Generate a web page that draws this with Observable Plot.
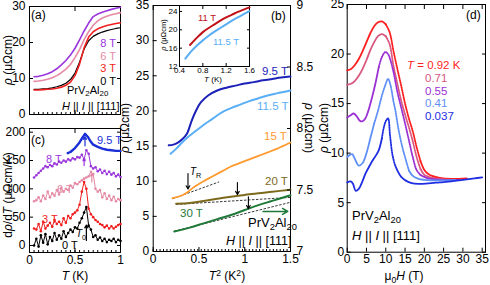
<!DOCTYPE html>
<html><head><meta charset="utf-8">
<script src="https://cdn.jsdelivr.net/npm/d3@7"></script>
<script src="https://cdn.jsdelivr.net/npm/@observablehq/plot@0.6"></script>
<style>
html,body{margin:0;padding:0;background:#fff;}
#root{position:relative;width:490px;height:285px;overflow:hidden;font-family:"Liberation Sans",Arial,Helvetica,sans-serif;}
.t{position:absolute;white-space:nowrap;line-height:1;}
.t sub{font-size:0.72em;vertical-align:-0.35em;line-height:0;}
.t sup{font-size:0.72em;vertical-align:0.5em;line-height:0;}
</style></head><body><div id="root"></div>
<script>
// ================= DATA =================
// (a) rho (μΩcm) vs T (K)
const aT  = [0.05,0.1,0.15,0.2,0.25,0.3,0.35,0.4,0.45,0.5,0.55,0.6,0.65,0.7,0.75,0.8,0.85,0.9,0.95,1.0];
const a0T = [7.0,7.0,7.1,7.2,7.4,7.7,8.1,8.7,9.7,11.5,14.5,18.2,20.5,21.7,22.4,22.9,23.3,23.6,23.9,24.1];
const a3T = [6.8,6.8,6.9,7.0,7.1,7.3,7.6,8.1,9.0,10.8,14.0,18.5,21.5,23.0,23.8,24.3,24.7,25.0,25.3,25.5];
const a6T = [9.2,9.3,9.5,9.8,10.2,10.8,11.6,12.6,13.9,15.8,18.0,20.8,23.0,24.8,26.0,26.8,27.3,27.7,28.0,28.3];
const a8T = [10.5,10.6,10.9,11.3,11.9,12.7,13.8,15.0,16.5,18.4,20.7,23.2,25.4,27.2,27.9,28.4,28.8,29.2,29.5,29.8];

// (c) dρ/dT (μΩcm/K) vs T (K)
const cT  = [0.05,0.075,0.1,0.125,0.15,0.175,0.2,0.225,0.25,0.275,0.3,0.325,0.35,0.375,0.4,0.425,0.45,0.475,0.5,0.525,0.55,0.575,0.6,0.625,0.65,0.675,0.7,0.725,0.75,0.775,0.8,0.825,0.85,0.875,0.9,0.925,0.95,0.975,1.0];
const c0T = [0,12,-2,18,5,20,2,15,8,22,10,18,12,25,15,22,28,24,32,30,40,48,58,68,35,28,15,18,10,14,8,12,6,10,8,12,6,10,8];
const c3T = [30,28,38,25,42,30,35,40,33,45,38,42,36,48,40,52,48,55,58,62,72,95,112,100,65,55,50,45,42,38,36,32,35,30,34,30,33,36,38];
const c6T = [78,80,85,78,88,82,95,85,92,88,98,90,102,95,100,98,106,102,110,108,112,115,118,120,122,130,126,100,95,98,85,92,82,88,80,86,78,82,80];
const c8T = [120,124,128,132,136,140,138,142,140,145,143,148,146,150,148,152,150,154,152,156,155,160,152,168,162,140,136,138,131,134,128,132,126,130,125,128,122,125,121];
const c95x = [0.42,0.45,0.5,0.55,0.58,0.61,0.64,0.67,0.7,0.75,0.8,0.85,0.9,0.95,1.0];
const c95T = [163,165,172,182,190,197,192,184,178,174,171,169,168,167,167];
const cArrowT    = [0.61,0.6,0.685,0.625];
const cArrowFrom = [176,141,112,9];
const cArrowTo   = [192,153,127,36];

// (b) rho vs T^2 (K^2)
const b95x = [0.17,0.22,0.27,0.32,0.37,0.42,0.47,0.52,0.6,0.7,0.8,0.9,1.0,1.1,1.2,1.3,1.4,1.5];
const b95  = [15.1,15.2,15.5,16.0,16.8,18.6,20.1,21.2,22.2,22.9,23.3,23.6,23.9,24.1,24.35,24.55,24.75,24.9];
const b115x = [0.19,0.25,0.3,0.37,0.45,0.55,0.65,0.75,0.85,0.95,1.05,1.15,1.25,1.35,1.5];
const b115  = [13.9,14.6,15.3,16.2,17.0,18.0,18.9,19.8,20.4,20.9,21.4,21.8,22.2,22.5,22.9];
const b15x = [0.21,0.3,0.37,0.45,0.55,0.65,0.75,0.85,0.95,1.05,1.15,1.25,1.35,1.5];
const b15  = [7.6,7.9,8.4,9.2,10.0,10.7,11.4,12.1,12.6,13.1,13.6,14.1,14.6,15.5];
const b20x = [0.25,0.4,0.55,0.7,0.85,1.0,1.15,1.3,1.5];
const b20  = [6.8,6.9,7.2,7.5,7.8,8.05,8.3,8.5,8.8];
const b30x = [0.23,0.4,0.55,0.7,0.85,1.0,1.15,1.3,1.5];
const b30  = [2.85,3.4,4.0,4.6,5.2,5.9,6.6,7.2,8.0];
const bFitX1 = [0.21,0.25,0.23], bFitX2 = [0.72,1.5,1.5];
const bFitY1 = [7.5,6.7,2.9],    bFitY2 = [9.9,7.7,7.0];
const bArrowX = [0.38,0.92,1.04];
const bArrowFrom = [11.1,9.8,7.8];
const bArrowTo   = [8.9,8.1,6.1];
const bGreenArrow = {x1:1.2, x2:1.47, y:5.7};
const bRightTicks = [7,7.5,8,8.5,9];

// (b) inset: rho vs T
const i11x = [0.58,0.7,0.8,0.9,1.0,1.1,1.2,1.3,1.4,1.5,1.6];
const i11  = [16.7,18.3,19.5,20.4,21.2,22.0,22.7,23.3,23.9,24.4,24.9];
const i115x = [0.5,0.6,0.7,0.8,0.9,1.0,1.1,1.2,1.3,1.4,1.5,1.6];
const i115  = [13.7,15.3,16.6,17.7,18.7,19.6,20.4,21.2,22.0,22.7,23.4,24.1];

// (d) rho vs mu0 H (T) at fixed temperatures
const dTemps = ["0.92","0.71","0.55","0.41","0.037"];
const dH092 = [0,1,2,3,4,5,6,7,8,9,10,11,12,13,14,15,16,17,18,19,20,21,22,24,27,31];
const dR092 = [18.35,18.5,18.9,19.5,20.3,21.2,22.1,22.8,23.2,23.3,23.0,22.2,20.3,18.5,16.8,15.0,13.5,12.2,10.6,9.2,8.3,7.9,7.7,7.5,7.4,7.45];
const dH071 = [0,1,2,3,4,5,6,7,8,9,10,11,12,13,14,15,16,17,18,19,20,22,25,28];
const dR071 = [16.9,17.0,17.3,17.8,18.5,19.4,20.4,21.2,21.8,22.0,21.8,21.0,18.8,17.0,15.3,13.9,12.6,11.2,9.6,8.4,7.8,7.5,7.35,7.3];
const dH055 = [0,0.8,1.7,2.5,3.2,3.9,4.7,5.5,6.5,7.3,8.2,9.0,9.9,10.6,11.2,12,13,14,15,16,17,18,19,20,21,23,26,29];
const dR055 = [13.6,13.8,14.0,13.7,13.3,13.2,13.5,14.3,15.7,17.0,18.7,19.7,20.2,20.0,19.4,18.2,16.2,14.6,13.0,11.3,9.6,8.3,7.8,7.6,7.45,7.35,7.3,7.3];
const dH041 = [0,0.6,1.3,2.0,3.0,4.0,5.0,6.0,7.0,8.0,9.0,10.0,10.6,11.2,12.0,12.5,13.3,14.3,15.0,16.0,17.0,18.5,20,22,25,28];
const dR041 = [9.6,9.8,9.9,9.4,8.75,9.0,10.0,11.5,13.0,14.3,15.8,17.0,17.5,16.9,15.2,14.3,12.4,10.6,9.6,8.25,7.7,7.4,7.3,7.25,7.25,7.3];
const dH0037 = [0,0.9,1.5,2.2,3,4,4.7,5.5,6.5,7.5,8.2,9.0,9.5,10.1,10.6,11.1,11.7,12.3,13,14,15.1,16.5,18.6,21,24,27,30,33,35];
const dR0037 = [7.05,7.15,6.9,6.2,6.4,7.2,7.9,8.5,9.2,9.8,10.3,11.5,12.6,13.3,13.5,11.8,9.9,8.9,8.25,7.6,7.25,7.0,6.9,6.95,7.05,7.15,7.3,7.45,7.55];
// field range plotted as dotted trace for each temperature
const dDotFrom = [10,10,8.2,7.0,9.0];
const dDotTo   = [19,19,19,16.0,12.3];

// ================= RENDER =================
const root = document.getElementById("root");
const FONT = '"Liberation Sans", Arial, Helvetica, sans-serif';
const sty = fs => ({fontFamily:FONT,fontSize:fs+"px",background:"transparent",overflow:"visible",color:"black"});
function put(svg,l,t){svg.style.position="absolute";svg.style.left=l+"px";svg.style.top=t+"px";root.appendChild(svg);}
const zip = (xs,ys) => xs.map((x,i)=>({x,y:ys[i]}));
const blank = () => "";
const str = d => String(d);

function axes({xT,yT,xMinor,ts=4,pad=4,xLab=true,yLab=true,right=true,top=true}){
  const m=[Plot.frame({strokeWidth:1})];
  m.push(Plot.axisX(xT,{anchor:"bottom",tickSize:-ts,tickFormat:blank,label:null}));
  if(top) m.push(Plot.axisX(xT,{anchor:"top",tickSize:-ts,tickFormat:blank,label:null}));
  if(xMinor) m.push(Plot.axisX(xMinor,{anchor:"bottom",tickSize:-ts/2,tickFormat:blank,label:null}));
  if(xLab) m.push(Plot.axisX(xT,{anchor:"bottom",tickSize:0,tickPadding:pad-1,tickFormat:str,label:null}));
  m.push(Plot.axisY(yT,{anchor:"left",tickSize:-ts,tickFormat:blank,label:null}));
  if(right) m.push(Plot.axisY(yT,{anchor:"right",tickSize:-ts,tickFormat:blank,label:null}));
  if(yLab) m.push(Plot.axisY(yT,{anchor:"left",tickSize:0,tickPadding:pad,tickFormat:str,label:null}));
  return m;
}
function label(html,x,y,{size=12,color="#000",anchor="start",rot=0}={}){
  const d=document.createElement("div");
  d.className="t"; d.innerHTML=html;
  d.style.left=x+"px"; d.style.top=y+"px"; d.style.fontSize=size+"px"; d.style.color=color;
  const tx = anchor==="start"?"0":anchor==="middle"?"-50%":"-100%";
  d.style.transform = rot ? `translate(-50%,-50%) rotate(${rot}deg)` : `translate(${tx},-50%)`;
  root.appendChild(d);
}

const C = {k:"#000000", red:"#f01e1e", pink:"#e48aa4", purple:"#9a35dc", blue:"#1a2fd6"};
const minorTC = d3.range(0,1.0001,0.05);

// ---- (a)
put(Plot.plot({width:125,height:120,marginLeft:29,marginRight:5,marginTop:6,marginBottom:6,
  x:{domain:[0,1]}, y:{domain:[0,30]}, style:sty(12),
  marks:[
    ...axes({xT:[0,0.5,1],yT:[0,10,20,30],xMinor:minorTC,xLab:false}),
    Plot.line(zip(aT,a0T),{x:"x",y:"y",stroke:C.k,strokeWidth:1.2}),
    Plot.line(zip(aT,a3T),{x:"x",y:"y",stroke:C.red,strokeWidth:1.6}),
    Plot.line(zip(aT,a6T),{x:"x",y:"y",stroke:C.pink,strokeWidth:1.6}),
    Plot.line(zip(aT,a8T),{x:"x",y:"y",stroke:C.purple,strokeWidth:1.6})
  ]}),0,0);

// ---- (c)
const cSeries = [[c0T,C.k],[c3T,C.red],[c6T,C.pink],[c8T,C.purple]];
const cArrowColors = [C.blue,C.purple,C.pink,C.k];
put(Plot.plot({width:125,height:165,marginLeft:29,marginRight:5,marginTop:8,marginBottom:33,
  x:{domain:[0,1]}, y:{domain:[-12.4,206.5]}, style:sty(12),
  marks:[
    ...axes({xT:[0,0.5,1],yT:[0,50,100,150,200],xMinor:minorTC}),
    ...cSeries.flatMap(([v,col])=>[
      Plot.line(zip(cT,v),{x:"x",y:"y",stroke:col,strokeWidth:1}),
      Plot.dot(zip(cT,v),{x:"x",y:"y",r:1.3,fill:col,stroke:null})
    ]),
    Plot.line(zip(c95x,c95T),{x:"x",y:"y",stroke:C.blue,strokeWidth:2.4}),
    ...cArrowT.map((t,i)=>Plot.arrow([{x:t,y1:cArrowFrom[i],y2:cArrowTo[i]}],
      {x1:"x",x2:"x",y1:"y1",y2:"y2",stroke:cArrowColors[i],strokeWidth:1.2,headLength:4}))
  ]}),0,120);

// ---- (b)
const B = {b95:"#1c22b8", b115:"#5aaef5", b15:"#ff9a2e", b20:"#7c6a1c", b30:"#1f7a38", i11:"#c01218"};
const bFits = bFitX1.map((x,i)=>({x1:x,x2:bFitX2[i],y1:bFitY1[i],y2:bFitY2[i]}));
put(Plot.plot({width:200,height:285,marginLeft:27.7,marginRight:35,marginTop:5,marginBottom:34,
  x:{domain:[0,1.5]}, y:{domain:[0,35]}, style:sty(12),
  marks:[
    ...axes({xT:[0,0.5,1,1.5],yT:[0,5,10,15,20,25,30,35],xMinor:d3.range(0,1.5001,0.0375),right:false}),
    Plot.link(bFits,{x1:"x1",x2:"x2",y1:"y1",y2:"y2",stroke:"#222",strokeWidth:0.9,strokeDasharray:"2.5,1.5"}),
    Plot.line(zip(b95x,b95),{x:"x",y:"y",stroke:B.b95,strokeWidth:2,curve:"catmull-rom"}),
    Plot.line(zip(b115x,b115),{x:"x",y:"y",stroke:B.b115,strokeWidth:2,curve:"catmull-rom"}),
    Plot.line(zip(b15x,b15),{x:"x",y:"y",stroke:B.b15,strokeWidth:1.8,curve:"catmull-rom"}),
    Plot.line(zip(b20x,b20),{x:"x",y:"y",stroke:B.b20,strokeWidth:2,curve:"catmull-rom"}),
    Plot.line(zip(b30x,b30),{x:"x",y:"y",stroke:B.b30,strokeWidth:2,curve:"catmull-rom"}),
    Plot.arrow(bArrowX.map((x,i)=>({x,y1:bArrowFrom[i],y2:bArrowTo[i]})),
      {x1:"x",x2:"x",y1:"y1",y2:"y2",stroke:"#000",strokeWidth:1.1,headLength:5}),
    Plot.arrow([bGreenArrow],{x1:"x1",x2:"x2",y1:"y",y2:"y",stroke:B.b30,strokeWidth:1.5,headLength:6})
  ]}),125,0);
// (b) right axis
put(Plot.plot({width:200,height:285,marginLeft:27.7,marginRight:35,marginTop:5,marginBottom:34,
  y:{domain:[7,9]}, style:sty(12),
  marks:[
    Plot.axisY(bRightTicks,{anchor:"right",tickSize:-4,tickFormat:blank,label:null}),
    Plot.axisY(bRightTicks,{anchor:"right",tickSize:0,tickPadding:6,tickFormat:str,label:null})
  ]}),125,0);
// (b) inset
put(Plot.plot({width:99,height:85,marginLeft:24,marginRight:5,marginTop:5,marginBottom:19,
  x:{domain:[0.4,1.6]}, y:{domain:[12,25.3]}, style:sty(8),
  marks:[
    Plot.frame({fill:"white",stroke:"none"}),
    ...axes({xT:[0.4,0.8,1.2,1.6],yT:[12,16,20,24],ts:3,pad:2}),
    Plot.line(zip(i11x,i11),{x:"x",y:"y",stroke:B.i11,strokeWidth:2,curve:"catmull-rom"}),
    Plot.line(zip(i115x,i115),{x:"x",y:"y",stroke:B.b115,strokeWidth:2,curve:"catmull-rom"})
  ]}),155,0);

// ---- (d)
const D = ["#ff1f1f","#d9577f","#9b30d3","#5f90f5","#1f2ee0"];
const dH = [dH092,dH071,dH055,dH041,dH0037];
const dR = [dR092,dR071,dR055,dR041,dR0037];
const dMarks = [];
dH.forEach((H,k)=>{
  const pts = zip(H,dR[k]);
  const a = pts.filter(p=>p.x<=dDotFrom[k]);
  const b = pts.filter(p=>p.x>=dDotFrom[k] && p.x<=dDotTo[k]);
  const c = pts.filter(p=>p.x>=dDotTo[k]);
  dMarks.push(Plot.line(a,{x:"x",y:"y",stroke:D[k],strokeWidth:1.8,curve:"catmull-rom"}));
  dMarks.push(Plot.line(b,{x:"x",y:"y",stroke:D[k],strokeWidth:1.8,strokeDasharray:"1.2,1.3",curve:"catmull-rom"}));
  dMarks.push(Plot.line(c,{x:"x",y:"y",stroke:D[k],strokeWidth:1.8,curve:"catmull-rom"}));
});
put(Plot.plot({width:165,height:285,marginLeft:21.7,marginRight:5,marginTop:4,marginBottom:33.3,
  x:{domain:[0,35.86]}, y:{domain:[0,25]}, style:sty(12),
  marks:[
    ...axes({xT:[0,5,10,15,20,25,30,35],yT:[0,5,10,15,20,25],pad:3}),
    ...dMarks
  ]}),325,0);

// ================= TEXT =================
const RHO = "<i>ρ</i> (μΩcm)";
const HI = "<i>H</i> || <i>I</i> || [111]";
const PRV = "PrV<sub>2</sub>Al<sub>20</sub>";
// (a)
label("(a)",31,15,{size:12});
label(RHO,8,60,{size:12,rot:-90});
label("8 T",116,43,{size:11,color:C.purple,anchor:"end"});
label("6 T",116,56,{size:11,color:C.pink,anchor:"end"});
label("3 T",116,68,{size:11,color:C.red,anchor:"end"});
label("0 T",116,81,{size:11,color:C.k,anchor:"end"});
label(PRV,67,90,{size:11});
label(HI,62,106,{size:11});
// (c)
label("(c)",31,140,{size:12});
label("d<i>ρ</i>/d<i>T</i> (μΩcm/K)",8,195,{size:12,rot:-90});
label("9.5 T",97,140,{size:11,color:C.blue});
label("8 T",46,159,{size:11,color:C.purple});
label("6 T",57,189,{size:11,color:C.pink});
label("3 T",42,219,{size:11,color:C.red});
label("0 T",62,245,{size:11,color:C.k});
label("<i>T</i><sub>0</sub>",76,234,{size:10});
label("<i>T</i> (K)",75,276,{size:12,anchor:"middle"});
// (b)
label("(b)",271,16,{size:12});
label(RHO,125,128,{size:12,rot:-90});
label(RHO,309,128,{size:12,rot:90});
label("<i>T</i><sup>2</sup> (K<sup>2</sup>)",227,276,{size:12,anchor:"middle"});
label("9.5 T",262,72,{size:11.5,color:B.b95});
label("11.5 T",257,107,{size:11.5,color:B.b115});
label("15 T",264,137,{size:11.5,color:B.b15});
label("20 T",265,182,{size:11.5,color:B.b20});
label("30 T",180,214,{size:11.5,color:B.b30});
label("<i>T</i><sub>R</sub>",190,172,{size:10});
label(PRV,248,222,{size:13});
label(HI,226,241,{size:12.5});
label("11 T",198,18,{size:9.5,color:B.i11});
label("11.5 T",213,42,{size:9.5,color:B.b115});
label(RHO,164,35,{size:7.5,rot:-90});
label("<i>T</i> (K)",213,80,{size:8,anchor:"middle"});
// (d)
label("(d)",466,15,{size:12});
label(RHO,324,128,{size:12,rot:-90});
label("μ<sub>0</sub><i>H</i> (T)",404,276,{size:12,anchor:"middle"});
label("<i>T</i> = 0.92 K",407,66,{size:11.5,color:D[0]});
label(dTemps[1],425,79,{size:11.5,color:D[1]});
label(dTemps[2],425,92,{size:11.5,color:D[2]});
label(dTemps[3],425,104,{size:11.5,color:D[3]});
label(dTemps[4],425,117,{size:11.5,color:D[4]});
label(PRV,352,215,{size:13});
label(HI,352,235,{size:13});
</script></body></html>
